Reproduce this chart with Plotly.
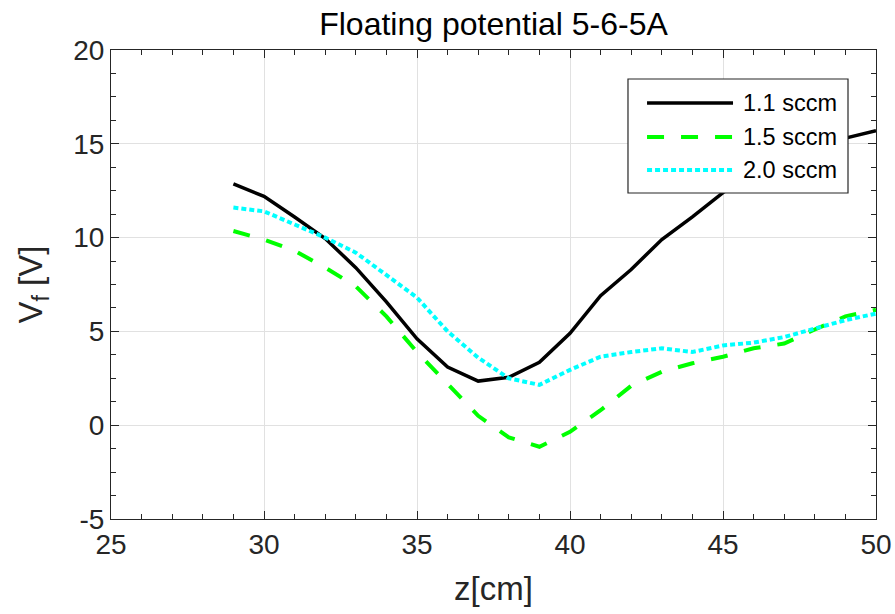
import plotly.graph_objects as go

# Axial position of the probe [cm]
z_cm = [29, 30, 31, 32, 33, 34, 35, 36, 37, 38, 39, 40,
        41, 42, 43, 44, 45, 46, 47, 48, 49, 50]

# Floating potential [V] for three gas flows
vf_11sccm = [12.86, 12.2, 11.1, 9.95, 8.4, 6.57, 4.6, 3.1, 2.35, 2.55, 3.35, 4.9,
             6.9, 8.3, 9.9, 11.1, 12.4, 13.4, 14.2, 14.8, 15.3, 15.7]
vf_15sccm = [10.35, 9.9, 9.3, 8.4, 7.4, 5.8, 3.9, 2.2, 0.5, -0.65, -1.15, -0.35,
             0.8, 2.1, 2.85, 3.3, 3.65, 4.1, 4.35, 5.1, 5.8, 6.15]
vf_20sccm = [11.6, 11.4, 10.7, 10.0, 9.2, 8.0, 6.8, 5.0, 3.6, 2.5, 2.15, 2.95,
             3.65, 3.9, 4.1, 3.9, 4.25, 4.4, 4.7, 5.15, 5.6, 5.95]

series_names = ["1.1 sccm", "1.5 sccm", "2.0 sccm"]
x_ticks = [25, 30, 35, 40, 45, 50]
y_ticks = [-5, 0, 5, 10, 15, 20]
y_tick_labels = ["-5", "0", "5", "10", "15", "20"]

FONT = "Liberation Sans, Arial, sans-serif"
TXT = "#262626"

styles = [
    dict(color="#000000", width=3.5, dash="solid"),
    dict(color="#00ff00", width=4, dash="17px,17px"),
    dict(color="#00ffff", width=4, dash="5px,3px"),
]

fig = go.Figure()
for name, ys, st in zip(series_names, [vf_11sccm, vf_15sccm, vf_20sccm], styles):
    fig.add_trace(go.Scatter(x=z_cm, y=ys, mode="lines", name=name,
                             line=st, showlegend=False))

# Boxed legend in the upper right corner of the axes
box = dict(x0=0.6758, x1=0.9634, y0=0.6951, y1=0.9382)
fig.add_shape(type="rect", xref="paper", yref="paper", **box,
              line=dict(color=TXT, width=1.2), fillcolor="white", layer="above")
row_y = [0.8870, 0.8145, 0.7441]
for name, st, yy in zip(series_names, styles, row_y):
    fig.add_shape(type="line", xref="paper", yref="paper",
                  x0=0.7007, x1=0.8131, y0=yy, y1=yy,
                  line=dict(color=st["color"], width=st["width"], dash=st["dash"]),
                  layer="above")
    fig.add_annotation(xref="paper", yref="paper", x=0.8235, y=yy,
                       text=name, showarrow=False, xanchor="left", yanchor="middle",
                       font=dict(family=FONT, size=23.5, color="#000000"))

axis_common = dict(
    showline=True, linecolor=TXT, linewidth=1.2, mirror="ticks",
    ticks="inside", ticklen=8, tickwidth=1.2, tickcolor=TXT,
    showgrid=True, gridcolor="#e1e1e1", gridwidth=1.2,
    zeroline=False, automargin=False,
    tickfont=dict(family=FONT, size=28, color=TXT),
)

fig.update_xaxes(
    range=[25, 50], tickvals=x_ticks,
    minor=dict(dtick=1, ticks="inside", ticklen=5, tickcolor=TXT, showgrid=False),
    title=dict(text="z[cm]", font=dict(family=FONT, size=33, color=TXT), standoff=18),
    **axis_common,
)
fig.update_yaxes(
    range=[-5, 20], tickvals=y_ticks, ticktext=y_tick_labels,
    minor=dict(dtick=1.25, tick0=0, ticks="inside", ticklen=5, tickcolor=TXT, showgrid=False),
    title=dict(text="V<sub>f</sub> [V]", font=dict(family=FONT, size=33, color=TXT), standoff=20),
    **axis_common,
)

fig.update_layout(
    width=895, height=614,
    margin=dict(l=111, r=19, t=50, b=95),
    plot_bgcolor="white", paper_bgcolor="white",
    title=dict(text="Floating potential 5-6-5A", x=0.5, xref="paper",
               y=1 - 24 / 614, yref="container", yanchor="middle", xanchor="center",
               font=dict(family=FONT, size=32, color="#000000")),
)

fig.write_html("out.html")
